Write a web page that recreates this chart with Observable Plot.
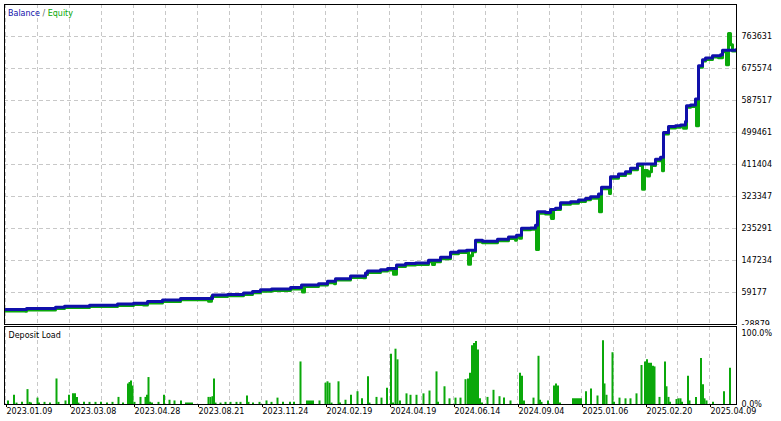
<!DOCTYPE html>
<html><head><meta charset="utf-8">
<script src="https://cdn.jsdelivr.net/npm/d3@7"></script>
<script src="https://cdn.jsdelivr.net/npm/@observablehq/plot@0.6"></script>
<style>
body{margin:0;background:#fff;}
#chart{position:relative;width:781px;height:421px;overflow:hidden;background:#fff;}
#chart svg{position:absolute;left:0;}
</style></head><body><div id="chart"></div>
<script>
// ---- data (x = deal index along the tester axis) ----
const balDeal  = [0,21,50,59,84,112,128,142,157,175,207,222,238,247,255,266,285,296,313,322,330,345,360,362,375,382,391,400,410,423,435,445,453,461,470,477,492,503,511,516,525,530,532,540,545,550,555,565,573,580,585,593,596,605,613,620,625,632,650,655,658,663,670,675,680,681,685,690,693,697,700,707,715,717,730];
const balValue = [12500,15300,18900,21600,24400,27200,29900,34600,38200,42900,52000,53900,57500,62200,66900,69000,73000,79600,83500,89800,97300,104500,112700,118300,122100,124900,134800,138700,140300,147800,156100,169900,173500,175400,203000,200200,205800,212100,216800,236100,237000,244400,281100,279500,287700,291300,306000,308700,313400,318100,322500,330000,348500,377700,385200,391500,400900,412800,425800,431300,499200,515700,517700,520400,529600,572900,574800,591400,683300,699900,704600,710900,713700,725500,727500];

const eqDeal  = [0,20,21,50,59,84,112,128,138,142,157,175,203,206,222,238,247,255,266,285,296,297,299,313,322,329,330,345,358,360,362,375,382,388,391,400,410,423,427,429,435,445,453,461,463,465,467,470,477,492,503,510,511,514,516,525,530,531,533,540,545,546,548,555,565,573,580,585,593,594,596,604,605,613,620,625,632,637,639,642,644,646,650,655,657,658,663,670,675,678,681,685,690,691,693,697,700,707,713,717,721,723,725,727,730];
const eqValue = [8500,7800,11300,14900,17600,20400,23200,25900,24500,30600,34200,38900,35400,48000,49900,53500,58200,62900,65000,69000,75600,60300,75600,79500,85800,83300,93300,100500,100000,108700,114300,118100,120900,109100,130800,134700,136300,143800,135900,143800,152100,165900,169500,171400,136700,160000,171400,199000,196200,201800,208100,203000,212800,208500,232100,233000,240400,177300,277100,275500,283700,262900,287300,302000,304700,309400,314100,318500,326000,281100,344500,331900,373700,381200,387500,396900,408800,343000,395000,380000,391500,408800,421800,427300,394300,495200,511700,513700,516400,511300,568900,570800,587400,517700,679300,695900,700600,706900,705400,721500,686100,771600,741200,723500,723500];

const loadDeal = [2.5,8.5,11,16.5,22,24,25.5,32,33.5,39,44.5,51,53,60,63.5,67.5,69.5,71.5,73,78.5,
  84,90,95.5,101.5,107,113,117.5,122.5,124,125.5,127,129,135,140,141.5,143,144.5,146.5,153,158.5,
  164,169,175.5,180.5,182.5,184.5,186.5,203,205,207,208.5,210,215,220,225,231,235,241.5,243,247.5,
  254,261,266,272,277.5,284.5,288.5,295,301.5,303.5,305.5,307.5,314,320,322,324,326,333,334.5,340,
  345.5,352,356.5,362.5,364,371,376,381.5,385.5,387.5,390,392,394.5,401,405,411,418,424,431,432.5,
  439,444,450,455,460,462.5,464.5,466.5,468.5,470.5,472.5,474.5,476.5,482,488,494,498.5,505,514.5,516.5,
  518.5,528,533,534.5,536,542.5,548.5,550.5,552.5,554.5,567.5,569.5,571.5,573.5,575.5,580.5,585.5,592,597.5,599,
  601,607,608.5,614,620,625,631,636,639.5,641.5,643.5,645.5,647.5,649,654,659.5,661,663,664.5,671,
  673,675,676.5,682.5,684,690.5,695.5,697.5,699,701,707.5,718.5,724.5];
const loadPct = [5,13,2,3,21,3,2,9,2,3,2,36,3,5,13,15,15,10,2,3,
  3,3,3,2,3,10,2,29,31,33,26,3,10,10,13,38,3,2,3,13,
  6,5,5,2,2,2,2,10,10,11,36,2,2,3,3,3,3,12,3,2,
  3,5,3,9,3,3,3,60,5,5,5,5,5,30,32,30,2,32,2,6,
  13,18,8,39,2,10,9,23,71,2,78,63,5,15,13,13,15,19,46,3,
  25,8,9,9,35,36,44,83,86,89,77,8,2,10,20,11,9,5,44,40,
  5,9,68,6,3,5,26,29,26,2,8,8,8,8,8,18,22,12,90,29,
  13,73,3,9,8,8,15,55,60,63,58,58,54,53,10,60,25,10,3,7,
  8,8,3,40,5,10,65,28,8,5,3,18,51];

const yTicks = [-28879,59177,147234,235291,323347,411404,499461,587517,675574,763631];
const yTop = 851688;
const loadTicks = [0,100];
const gridDeals = [0,32,64,96,128,160,192,224,256,288,320,352,384,416,448,480,512,544,576,608,640,672,704];
const dateDeals = [0,64,128,192,256,320,384,448,512,576,640,704];
const dateLabels = ["2023.01.09","2023.03.08","2023.04.28","2023.08.21","2023.11.24","2024.02.19","2024.04.19","2024.06.14","2024.09.04","2025.01.06","2025.02.20","2025.04.09"];

// ---- styles ----
const FONT = "DejaVu Sans";
const BLUE = "#1010aa", GREEN = "#0aa80a", GRID = "#c8c8c8";
const balance = balDeal.map((d, i) => ({deal: d, value: balValue[i]}));
const equity = eqDeal.map((d, i) => ({deal: d, value: eqValue[i]}));
const loads = loadDeal.map((d, i) => ({deal: d, pct: loadPct[i]}));
const labelByDeal = new Map(dateDeals.map((d, i) => [d, dateLabels[i]]));
const xDomain = [-1, 731];
const style = {fontFamily: FONT, fontSize: "8px", color: "#000", background: "#fff"};
const gridOpts = {stroke: GRID, strokeOpacity: 1, strokeDasharray: "4,3", strokeWidth: 1};

const main = Plot.plot({
  width: 781, height: 326,
  marginTop: 4, marginRight: 45, marginBottom: 2, marginLeft: 4,
  style,
  x: {domain: xDomain, axis: null},
  y: {domain: [yTicks[0], yTop], axis: null},
  marks: [
    Plot.gridX(gridDeals, gridOpts),
    Plot.gridY(yTicks, gridOpts),
    Plot.line(equity, {x: "deal", y: "value", curve: "step-after", stroke: GREEN, strokeWidth: 3}),
    Plot.line(balance, {x: "deal", y: "value", curve: "step-after", stroke: BLUE, strokeWidth: 3}),
    Plot.frame({stroke: "#000"}),
    Plot.axisY(yTicks, {anchor: "right", label: null, tickSize: 0, tickPadding: 5, tickFormat: d => String(d), fill: "#000"})
  ]
});
main.style.top = "0px";
const leg = d3.select(main).append("text")
  .attr("x", 8).attr("y", 13).attr("dy", "0.32em")
  .attr("text-anchor", "start")
  .style("font-family", FONT).style("font-size", "8px");
leg.append("tspan").attr("fill", BLUE).text("Balance");
leg.append("tspan").attr("fill", "#666").text(" / ");
leg.append("tspan").attr("fill", GREEN).text("Equity");

const load = Plot.plot({
  width: 781, height: 96,
  marginTop: 1, marginRight: 45, marginBottom: 17, marginLeft: 4,
  style,
  x: {domain: xDomain, axis: null},
  y: {domain: [0, 110], axis: null},
  marks: [
    Plot.gridX(gridDeals, gridOpts),
    Plot.ruleX(loads, {x: "deal", y: "pct", stroke: GREEN, strokeWidth: 2}),
    Plot.frame({stroke: "#000"}),
    Plot.axisY(loadTicks, {anchor: "right", label: null, tickSize: 0, tickPadding: 5, tickFormat: d => d.toFixed(1) + "%", fill: "#000"}),
    Plot.axisX(dateDeals, {anchor: "bottom", label: null, tickSize: 3, tickPadding: 1, textAnchor: "start", dx: 1, tickFormat: d => labelByDeal.get(d), fill: "#000", stroke: "#000"}),
    Plot.text(["Deposit Load"], {frameAnchor: "top-left", dx: 4, dy: 6, fill: "#000"})
  ]
});
load.style.top = "325px";

const host = document.getElementById("chart");
host.appendChild(main);
host.appendChild(load);
</script></body></html>
